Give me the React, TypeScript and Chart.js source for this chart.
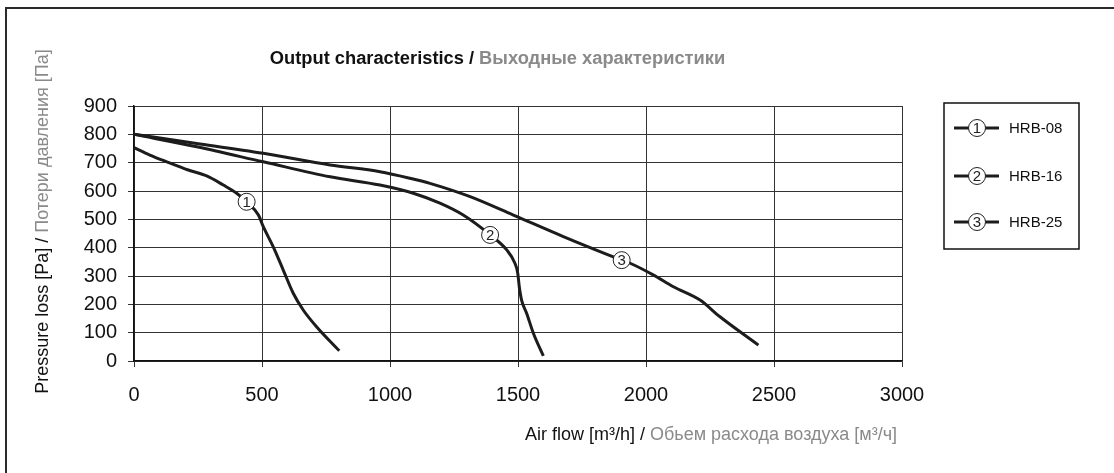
import React, { useEffect, useRef } from "react";
import { Chart, registerables } from "chart.js";

Chart.register(...registerables);

const FONT = '"Liberation Sans", Arial, sans-serif';

// HRB-08
const hrb08Flow = [0, 62, 128, 212, 284, 349, 401, 440, 486, 505, 544, 583, 622, 661, 713, 802];
const hrb08Pressure = [753, 727, 703, 674, 653, 621, 592, 562, 515, 474, 403, 321, 239, 180, 121, 36];
// HRB-16
const hrb16Flow = [0, 245, 505, 766, 961, 1091, 1195, 1286, 1391, 1456, 1488, 1499, 1505, 1514, 1534, 1560, 1599];
const hrb16Pressure = [800, 756, 703, 650, 621, 592, 557, 515, 445, 392, 345, 310, 262, 215, 168, 98, 18];
// HRB-25
const hrb25Flow = [0, 245, 505, 766, 961, 1078, 1156, 1313, 1482, 1677, 1905, 1938, 2028, 2107, 2211, 2289, 2439];
const hrb25Pressure = [800, 768, 733, 692, 668, 645, 627, 580, 515, 439, 356, 345, 304, 262, 215, 156, 56];

const seriesNames = ["HRB-08", "HRB-16", "HRB-25"];
const markerFlow = [440, 1391, 1905];
const markerPressure = [562, 445, 356];

const titleBlack = "Output characteristics / ";
const titleGray = "Выходные характеристики";
const xTitleBlack = "Air flow [m³/h] / ";
const xTitleGray = "Обьем расхода воздуха [м³/ч]";
const yTitleBlack = "Pressure loss [Pa] / ";
const yTitleGray = "Потери давления [Па]";

const BLACK = "#111111";
const GRAY = "#8a8a8a";

function badge(ctx: CanvasRenderingContext2D, x: number, y: number, label: string) {
  ctx.save();
  ctx.beginPath();
  ctx.arc(x, y, 8.5, 0, Math.PI * 2);
  ctx.fillStyle = "#ffffff";
  ctx.fill();
  ctx.lineWidth = 1;
  ctx.strokeStyle = "#222222";
  ctx.stroke();
  ctx.fillStyle = "#222222";
  ctx.font = `15px ${FONT}`;
  ctx.textAlign = "center";
  ctx.textBaseline = "middle";
  ctx.fillText(label, x, y + 1);
  ctx.restore();
}

function twoTone(ctx: CanvasRenderingContext2D, a: string, b: string, cx: number, y: number) {
  const wa = ctx.measureText(a).width;
  const wb = ctx.measureText(b).width;
  const start = cx - (wa + wb) / 2;
  ctx.textAlign = "left";
  ctx.fillStyle = BLACK;
  ctx.fillText(a, start, y);
  ctx.fillStyle = GRAY;
  ctx.fillText(b, start + wa, y);
}

const decor = {
  id: "decor",
  beforeDraw(chart: any) {
    const ctx = chart.ctx as CanvasRenderingContext2D;
    ctx.save();
    ctx.fillStyle = "#ffffff";
    ctx.fillRect(0, 0, chart.width, chart.height);
    ctx.restore();
  },
  afterDatasetsDraw(chart: any) {
    const ctx = chart.ctx as CanvasRenderingContext2D;
    const xs = chart.scales.x;
    const ys = chart.scales.y;
    markerFlow.forEach((f, i) => {
      badge(ctx, xs.getPixelForValue(f), ys.getPixelForValue(markerPressure[i]), String(i + 1));
    });
  },
  afterDraw(chart: any) {
    const ctx = chart.ctx as CanvasRenderingContext2D;
    ctx.save();
    // outer frame
    ctx.strokeStyle = "#2a2a2a";
    ctx.lineWidth = 2;
    ctx.beginPath();
    ctx.moveTo(6, chart.height + 2);
    ctx.lineTo(6, 8);
    ctx.lineTo(chart.width + 2, 8);
    ctx.stroke();

    // title
    ctx.font = `bold 18.3px ${FONT}`;
    ctx.textBaseline = "alphabetic";
    twoTone(ctx, titleBlack, titleGray, 497.5, 64);

    // x title
    ctx.font = `18px ${FONT}`;
    twoTone(ctx, xTitleBlack, xTitleGray, 711, 440);

    // y title
    ctx.save();
    ctx.translate(48, 221.5);
    ctx.rotate(-Math.PI / 2);
    twoTone(ctx, yTitleBlack, yTitleGray, 0, 0);
    ctx.restore();

    // legend
    ctx.strokeStyle = "#111111";
    ctx.lineWidth = 1.5;
    ctx.strokeRect(944, 103, 135, 146);
    const rows = [128, 176, 222];
    seriesNames.forEach((name, i) => {
      const y = rows[i];
      ctx.strokeStyle = "#1c1c1c";
      ctx.lineWidth = 3;
      ctx.beginPath();
      ctx.moveTo(954, y);
      ctx.lineTo(999, y);
      ctx.stroke();
      badge(ctx, 977, y, String(i + 1));
      ctx.fillStyle = BLACK;
      ctx.font = `15px ${FONT}`;
      ctx.textAlign = "left";
      ctx.textBaseline = "middle";
      ctx.fillText(name, 1009, y + 1);
    });
    ctx.restore();
  },
};

function toPoints(xs: number[], ys: number[]) {
  return xs.map((x, i) => ({ x, y: ys[i] }));
}

export default function App() {
  const ref = useRef<HTMLCanvasElement | null>(null);

  useEffect(() => {
    if (!ref.current) return;
    const ds = (label: string, xs: number[], ys: number[]) => ({
      label,
      data: toPoints(xs, ys),
      borderColor: "#1c1c1c",
      borderWidth: 3,
      pointRadius: 0,
      fill: false,
      cubicInterpolationMode: "monotone" as const,
    });
    const chart = new Chart(ref.current, {
      type: "line",
      data: {
        datasets: [
          ds(seriesNames[0], hrb08Flow, hrb08Pressure),
          ds(seriesNames[1], hrb16Flow, hrb16Pressure),
          ds(seriesNames[2], hrb25Flow, hrb25Pressure),
        ],
      },
      options: {
        responsive: false,
        animation: false,
        devicePixelRatio: 1,
        layout: { padding: { left: 0, top: 106, right: 212, bottom: 0 } },
        plugins: {
          legend: { display: false },
          title: { display: false },
          tooltip: { enabled: false },
        },
        scales: {
          x: {
            type: "linear",
            min: 0,
            max: 3000,
            ticks: {
              stepSize: 500,
              autoSkip: false,
              maxRotation: 0,
              padding: 16,
              color: BLACK,
              font: { size: 20, family: FONT },
              callback: (v: any) => String(v),
            },
            grid: { color: "#333333", lineWidth: 1, tickLength: 6 },
            border: { color: "#111111", width: 1.5 },
            afterFit(scale: any) {
              scale.height = 112;
            },
          },
          y: {
            type: "linear",
            min: 0,
            max: 900,
            ticks: {
              stepSize: 100,
              padding: 11,
              color: BLACK,
              font: { size: 20, family: FONT },
              callback: (v: any) => String(v),
            },
            grid: { color: "#333333", lineWidth: 1, tickLength: 6 },
            border: { color: "#111111", width: 1.5 },
            afterFit(scale: any) {
              scale.width = 134;
            },
          },
        },
      },
      plugins: [decor],
    });
    return () => chart.destroy();
  }, []);

  return (
    <div style={{ position: "absolute", left: 0, top: 0, width: 1114, height: 473 }}>
      <canvas ref={ref} width={1114} height={473} style={{ display: "block", width: 1114, height: 473 }} />
    </div>
  );
}
